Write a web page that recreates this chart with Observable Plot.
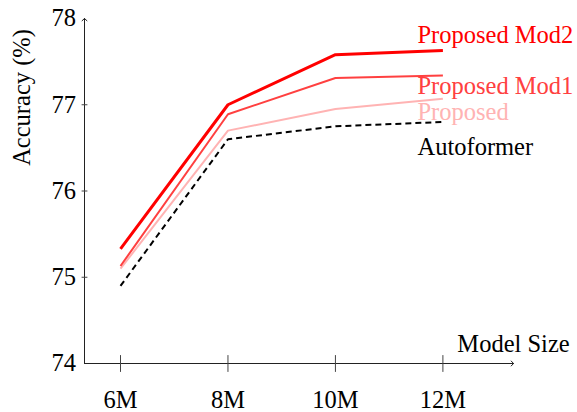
<!DOCTYPE html>
<html>
<head>
<meta charset="utf-8">
<script src="https://cdn.jsdelivr.net/npm/d3@7"></script>
<script src="https://cdn.jsdelivr.net/npm/@observablehq/plot@0.6"></script>
<style>
  html, body { margin: 0; padding: 0; background: white; }
</style>
</head>
<body>
<div id="chart"></div>
<script>
// ---- data ----
const sizeLabels = ["6M", "8M", "10M", "12M"];
const sizeValues = [6, 8, 10, 12];
const autoformer = [74.90, 76.60, 76.75, 76.80];
const proposed   = [75.10, 76.70, 76.95, 77.07];
const mod1       = [75.13, 76.89, 77.31, 77.34];
const mod2       = [75.33, 77.00, 77.58, 77.63];
const seriesNames = ["Autoformer", "Proposed", "Proposed Mod1", "Proposed Mod2"];
const yTicks = [74, 75, 76, 77, 78];
const xLabel = "Model Size";
const yLabel = "Accuracy (%)";

// ---- styles ----
const styles = {
  "Autoformer":    {stroke: "black",   width: 2, dash: "6,4", dy: 25},
  "Proposed":      {stroke: "#ffb3b3", width: 2, dash: null,  dy: 13},
  "Proposed Mod1": {stroke: "#ff4040", width: 2, dash: null,  dy: 11},
  "Proposed Mod2": {stroke: "#ff0000", width: 3, dash: null,  dy: -15}
};
const seriesValues = {"Autoformer": autoformer, "Proposed": proposed, "Proposed Mod1": mod1, "Proposed Mod2": mod2};

const xDomain = [5.330, 13.314];
const yDomain = [74, 78];
const font = "Liberation Serif, Times New Roman, serif";
const fs = 24.5;

const rows = s => sizeValues.map((x, i) => ({x, y: seriesValues[s][i], s}));
const tickShape = {draw(ctx, l) { ctx.moveTo(0, 0); ctx.lineTo(0, -l); }};

const marks = [];
// axes arrows
marks.push(Plot.arrow([{x1: xDomain[0], y1: yDomain[0], x2: xDomain[1], y2: yDomain[0]},
                       {x1: xDomain[0], y1: yDomain[0], x2: xDomain[0], y2: yDomain[1]}],
  {x1: "x1", y1: "y1", x2: "x2", y2: "y2", stroke: "#222", strokeWidth: 1, headLength: 5, headAngle: 95}));
// x ticks
marks.push(Plot.vector(sizeValues, {x: d => d, y: yDomain[0], length: 16, rotate: 0, anchor: "middle",
  shape: tickShape, stroke: "#444", strokeWidth: 1}));
// y ticks
marks.push(Plot.vector(yTicks.slice(1, -1), {x: xDomain[0], y: d => d, length: 5, rotate: 90, anchor: "middle",
  shape: tickShape, stroke: "#444", strokeWidth: 1}));
// tick labels
marks.push(Plot.text(sizeValues, {x: d => d, y: yDomain[0], text: (d, i) => sizeLabels[i], dy: 36.5,
  fontSize: fs, fill: "black"}));
marks.push(Plot.text(yTicks, {x: xDomain[0], y: d => d, text: d => String(d), textAnchor: "end", dx: -8.5,
  fontSize: fs, fill: "black"}));
// axis labels
marks.push(Plot.text([xLabel], {x: xDomain[1], y: yDomain[0], text: d => d, dy: -19, fontSize: fs, fill: "black"}));
marks.push(Plot.text([yLabel], {x: xDomain[0], y: yDomain[1], text: d => d, rotate: -90, dx: -62, dy: 79,
  fontSize: fs, fill: "black"}));
// lines
for (const s of seriesNames) {
  const st = styles[s];
  marks.push(Plot.line(rows(s), {x: "x", y: "y", stroke: st.stroke, strokeWidth: st.width,
    strokeDasharray: st.dash || undefined, strokeLinejoin: "miter", strokeLinecap: "butt"}));
}
// series labels
for (const s of seriesNames) {
  const st = styles[s];
  const last = rows(s).at(-1);
  marks.push(Plot.text([last], {x: "x", y: "y", text: () => s, textAnchor: "start", dx: -25.4, dy: st.dy,
    fill: st.stroke, fontSize: fs}));
}

const chart = Plot.plot({
  width: 577, height: 412,
  marginLeft: 84, marginRight: 64, marginTop: 18, marginBottom: 49,
  x: {domain: xDomain, axis: null},
  y: {domain: yDomain, axis: null},
  style: {fontFamily: font, fontSize: fs + "px", background: "white", color: "black"},
  marks
});
document.getElementById("chart").appendChild(chart);
</script>
</body>
</html>
